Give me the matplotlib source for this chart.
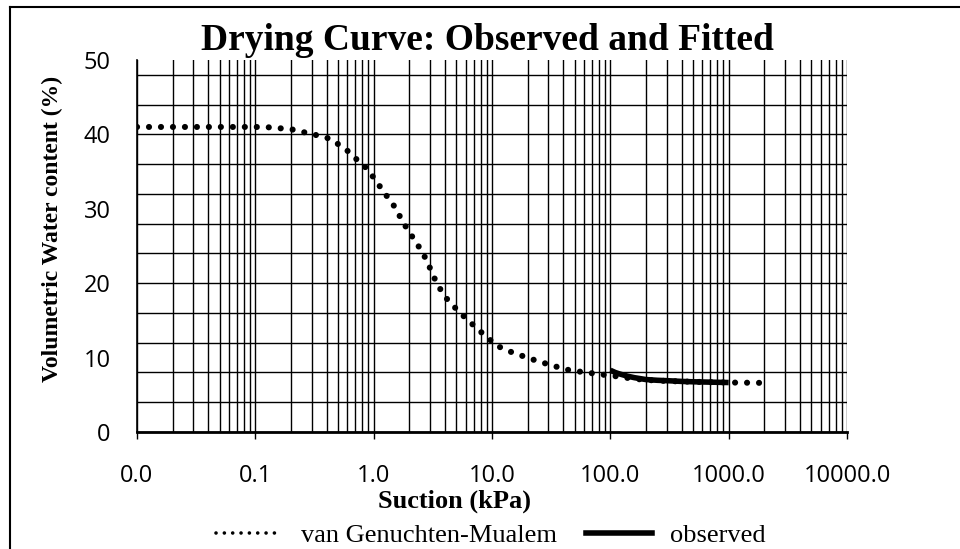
import matplotlib
matplotlib.use("Agg")
import matplotlib.pyplot as plt
from matplotlib.lines import Line2D
from matplotlib.ticker import LogLocator, MultipleLocator, FixedLocator, FixedFormatter, NullFormatter

# fitted curve (van Genuchten-Mualem)
fit_suction = [0.01, 0.02, 0.05, 0.1, 0.13, 0.2, 0.29, 0.35, 0.43, 0.5, 0.6, 0.7,
               0.85, 1.0, 1.2, 1.5, 1.8, 2.15, 2.6, 3.0, 3.45, 4.2, 5.3, 6.5, 7.6,
               9.3, 11, 13.7, 19, 24.6, 33, 42, 56, 70, 87, 100, 150, 200, 300,
               500, 1000, 2000]
fit_theta = [41.0, 41.0, 41.0, 41.0, 40.95, 40.7, 40.1, 39.8, 39.4, 38.7, 37.8, 36.8,
             35.6, 34.2, 32.4, 30.3, 28.0, 26.1, 24.1, 22.0, 19.8, 17.8, 16.1, 14.8, 13.8,
             12.6, 11.6, 10.9, 10.1, 9.5, 8.9, 8.4, 8.1, 7.9, 7.7, 7.6, 7.2, 7.0, 6.85,
             6.75, 6.65, 6.6]

# observed
obs_suction = [100, 110, 120, 140, 160, 200, 250, 300, 400, 500, 700, 1000]
obs_theta = [8.3, 8.0, 7.8, 7.5, 7.3, 7.05, 6.95, 6.9, 6.8, 6.75, 6.7, 6.65]

x_ticks = [0.01, 0.1, 1, 10, 100, 1000, 10000]
x_labels = ["0.0", "0.1", "1.0", "10.0", "100.0", "1000.0", "10000.0"]

SERIF = "Liberation Serif"
SANS = "Open Sans"

fig = plt.figure(figsize=(9.6, 5.49), dpi=100)
ax = fig.add_axes([137 / 960, 1 - 432 / 549, 710 / 960, 372 / 549])

ax.plot(fit_suction, fit_theta, color="black", lw=4.4,
        linestyle=(0, (0.01, 1.95)), dash_capstyle="round", zorder=3)
ax.plot(obs_suction, obs_theta, color="black", lw=4.0,
        solid_capstyle="butt", zorder=4)

ax.set_xscale("log")
ax.set_xlim(0.01, 10000)
ax.set_ylim(0, 50)

ax.xaxis.set_major_locator(FixedLocator(x_ticks))
ax.xaxis.set_major_formatter(FixedFormatter(x_labels))
ax.xaxis.set_minor_locator(LogLocator(base=10, subs=range(2, 10)))
ax.xaxis.set_minor_formatter(NullFormatter())

ax.yaxis.set_major_locator(MultipleLocator(10))
ax.yaxis.set_minor_locator(MultipleLocator(4))
ax.yaxis.remove_overlapping_locs = False

ax.grid(True, which="both", axis="x", color="black", lw=1.0)
ax.grid(True, which="minor", axis="y", color="black", lw=1.0)
ax.grid(False, which="major", axis="y")

ax.tick_params(axis="x", which="major", direction="out", length=5, width=1,
               pad=18, labelsize=17)
ax.tick_params(axis="x", which="minor", length=0)
ax.tick_params(axis="y", which="both", length=0, pad=19, labelsize=17)
for lab in ax.get_xticklabels() + ax.get_yticklabels():
    lab.set_family(SANS)

for s in ["top", "right"]:
    ax.spines[s].set_visible(False)
ax.spines["bottom"].set_linewidth(2)
ax.spines["left"].set_linewidth(1.2)

fig.text(487 / 960, 1 - 50 / 549, "Drying Curve: Observed and Fitted",
         family=SERIF, weight="bold", fontsize=27, ha="center", va="baseline")
fig.text(455 / 960, 1 - 508 / 549, "Suction (kPa)",
         family=SERIF, weight="bold", fontsize=19, ha="center", va="baseline")
fig.text(52 / 960, 1 - 229 / 549, "Volumetric Water content (%)",
         family=SERIF, weight="bold", fontsize=17, ha="center", va="center",
         rotation=90)

handles = [Line2D([], [], color="black", lw=2.6, linestyle=(0, (0.01, 2.3)),
                  dash_capstyle="round"),
           Line2D([], [], color="black", lw=4.0)]
fig.legend(handles, ["van Genuchten-Mualem", "observed"], loc="center",
           bbox_to_anchor=(491 / 960, 1 - 535 / 549), ncol=2, frameon=False,
           prop={"family": SERIF, "size": 19}, handlelength=2.5,
           handletextpad=0.7, columnspacing=1.1, borderpad=0, borderaxespad=0)

# frame of the scanned figure
fig.add_artist(Line2D([10 / 960, 1], [1 - 7 / 549, 1 - 7 / 549], color="black", lw=1.5))
fig.add_artist(Line2D([10 / 960, 10 / 960], [0, 1 - 7 / 549], color="black", lw=1.5))

fig.savefig("out.png", dpi=100)
